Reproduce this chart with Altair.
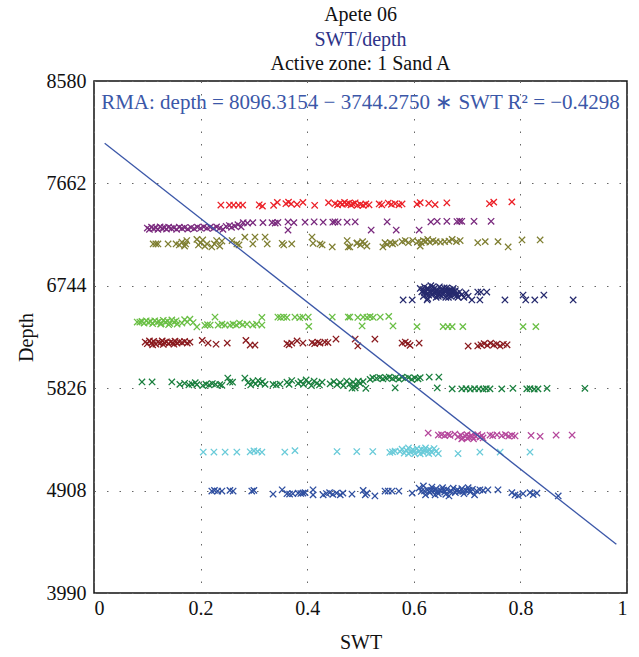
import altair as alt
import pandas as pd

# ---------------- data ----------------
red = [(0.238,7468),(0.254,7468),(0.262,7468),(0.271,7468),(0.279,7468),(0.310,7470),(0.316,7458),(0.337,7466),
       (0.344,7492),(0.360,7480),(0.365,7494),(0.370,7478),(0.381,7474),(0.392,7492),(0.414,7466),(0.440,7490),
       (0.452,7480),(0.457,7470),(0.462,7486),(0.466,7474),(0.470,7492),(0.474,7478),(0.478,7484),(0.482,7470),
       (0.486,7478),(0.490,7488),(0.494,7466),(0.500,7474),(0.505,7466),(0.510,7478),(0.516,7470),(0.535,7478),
       (0.540,7470),(0.552,7486),(0.558,7474),(0.565,7480),(0.572,7470),(0.578,7478),(0.606,7476),(0.612,7490),
       (0.628,7484),(0.640,7472),(0.662,7488),(0.742,7480),(0.750,7494),(0.784,7496)]

purple = [(0.100,7262),(0.104,7250),(0.108,7270),(0.112,7256),(0.116,7266),(0.120,7250),(0.124,7272),(0.128,7258),
          (0.132,7266),(0.136,7252),(0.140,7270),(0.145,7258),(0.150,7264),(0.155,7250),(0.160,7270),(0.165,7258),
          (0.170,7266),(0.176,7252),(0.182,7266),(0.188,7256),(0.194,7270),(0.200,7260),(0.206,7272),(0.212,7262),
          (0.218,7270),(0.224,7258),(0.230,7272),(0.236,7262),(0.242,7250),(0.248,7276),(0.254,7284),(0.258,7268),
          (0.264,7280),(0.270,7292),(0.276,7272),
          (0.280,7310),(0.288,7306),(0.298,7310),(0.317,7310),(0.334,7310),(0.340,7306),(0.345,7312),(0.364,7316),
          (0.364,7244),(0.375,7310),(0.396,7314),(0.413,7318),(0.430,7314),(0.448,7314),(0.452,7318),(0.458,7314),
          (0.475,7314),(0.490,7318),(0.520,7244),(0.550,7318),(0.567,7244),(0.610,7244),(0.632,7316),(0.644,7322),
          (0.662,7322),(0.681,7320),(0.686,7324),(0.690,7322),(0.713,7322),(0.745,7322)]

olive = [(0.111,7119),(0.116,7119),(0.120,7119),(0.139,7119),(0.154,7119),(0.160,7110),(0.165,7135),(0.170,7100),
         (0.174,7150),(0.172,7119),(0.193,7160),(0.196,7110),(0.200,7130),(0.204,7155),(0.208,7100),(0.212,7119),
         (0.221,7092),(0.226,7119),(0.230,7150),(0.236,7100),(0.240,7145),(0.259,7150),(0.268,7119),(0.272,7110),
         (0.283,7180),(0.298,7119),(0.302,7181),(0.321,7181),(0.325,7119),(0.353,7125),(0.356,7110),(0.371,7119),
         (0.409,7181),(0.411,7125),(0.424,7119),(0.428,7110),(0.447,7092),(0.475,7150),(0.477,7092),(0.493,7125),
         (0.480,7092),(0.494,7128),(0.500,7110),(0.504,7140),(0.508,7120),(0.512,7100),(0.542,7092),(0.546,7130),
         (0.550,7115),(0.556,7130),(0.560,7120),(0.565,7128),(0.578,7140),(0.584,7150),(0.590,7130),(0.598,7150),
         (0.608,7140),(0.612,7100),(0.614,7130),(0.618,7150),(0.622,7140),(0.626,7160),(0.630,7135),(0.636,7150),
         (0.642,7140),(0.650,7135),(0.658,7140),(0.666,7145),(0.672,7160),(0.680,7140),(0.687,7150),(0.720,7130),
         (0.734,7140),(0.758,7140),(0.777,7092),(0.803,7155),(0.837,7155)]

navy = [(0.612,6720),(0.615,6690),(0.618,6650),(0.620,6735),(0.622,6700),(0.624,6670),(0.626,6630),(0.628,6715),
        (0.630,6690),(0.632,6745),(0.634,6660),(0.636,6705),(0.638,6680),(0.640,6725),(0.642,6640),(0.644,6700),
        (0.646,6670),(0.648,6735),(0.650,6690),(0.652,6655),(0.654,6715),(0.656,6680),(0.658,6700),(0.660,6640),
        (0.662,6725),(0.664,6665),(0.666,6695),(0.668,6710),(0.670,6650),(0.672,6685),(0.674,6720),(0.676,6660),
        (0.678,6700),(0.680,6675),(0.683,6640),(0.686,6690),(0.690,6665),(0.694,6640),(0.698,6680),(0.702,6650),
        (0.618,6700),(0.625,6720),(0.633,6680),(0.641,6700),(0.649,6660),(0.657,6725),(0.665,6640),(0.673,6700),
        (0.681,6655),(0.628,6660),(0.636,6735),(0.644,6685),(0.652,6710),(0.660,6690),(0.668,6675),(0.676,6690),
        (0.620,6680),(0.646,6650),(0.662,6700),(0.655,6670),
        (0.580,6617),(0.597,6617),(0.625,6617),(0.709,6617),(0.720,6688),(0.726,6688),(0.737,6688),(0.724,6617),
        (0.771,6617),(0.805,6661),(0.810,6617),(0.827,6617),(0.844,6661),(0.899,6617)]

light_green = [(0.081,6419),(0.086,6419),(0.090,6425),(0.094,6410),(0.098,6430),(0.102,6415),(0.106,6425),(0.110,6405),
               (0.114,6430),(0.118,6415),(0.122,6425),(0.126,6405),(0.130,6435),(0.134,6418),(0.138,6428),(0.142,6408),
               (0.146,6438),(0.150,6418),(0.154,6430),(0.156,6400),(0.140,6395),(0.125,6400),
               (0.165,6410),(0.170,6440),(0.175,6420),(0.180,6445),(0.186,6415),(0.193,6375),(0.208,6390),(0.213,6395),
               (0.218,6392),(0.227,6464),(0.233,6392),(0.240,6400),(0.246,6392),(0.255,6392),(0.261,6400),(0.267,6392),
               (0.273,6410),(0.279,6395),(0.287,6400),(0.298,6392),(0.305,6400),(0.315,6392),(0.315,6460),(0.345,6464),
               (0.350,6460),(0.356,6464),(0.362,6460),(0.377,6464),(0.386,6458),(0.392,6464),(0.402,6464),(0.403,6380),
               (0.447,6464),(0.477,6464),(0.495,6460),(0.480,6464),(0.505,6464),(0.512,6460),(0.518,6468),(0.524,6460),
               (0.537,6464),(0.553,6470),(0.503,6384),(0.561,6384),(0.606,6378),(0.655,6378),(0.664,6378),(0.672,6378),
               (0.692,6378),(0.805,6378),(0.829,6378)]

dark_red = [(0.096,6240),(0.100,6225),(0.104,6250),(0.108,6232),(0.112,6245),(0.116,6222),(0.120,6240),(0.124,6230),
            (0.128,6250),(0.132,6235),(0.136,6242),(0.140,6225),(0.144,6240),(0.148,6232),(0.152,6248),(0.156,6230),
            (0.160,6242),(0.165,6235),(0.170,6245),(0.175,6230),(0.180,6240),(0.110,6215),(0.130,6218),(0.150,6220),
            (0.203,6255),(0.214,6231),(0.229,6220),(0.250,6231),(0.285,6255),(0.293,6213),(0.302,6213),(0.362,6225),
            (0.366,6215),(0.371,6231),(0.381,6250),(0.392,6231),(0.409,6235),(0.414,6225),(0.420,6240),(0.424,6230),
            (0.433,6240),(0.439,6235),(0.454,6267),(0.490,6267),(0.495,6205),(0.527,6267),(0.578,6231),(0.584,6240),
            (0.589,6225),(0.593,6210),(0.610,6231),(0.702,6204),(0.720,6205),(0.726,6215),(0.732,6225),(0.738,6210),
            (0.744,6230),(0.750,6215),(0.756,6222),(0.762,6205),(0.768,6220),(0.775,6215)]

dark_green = [(0.090,5882),(0.109,5882),(0.146,5882),(0.161,5860),(0.170,5870),(0.178,5855),(0.184,5862),(0.190,5875),
              (0.193,5858),(0.204,5850),(0.210,5862),(0.216,5855),(0.222,5868),(0.228,5860),(0.236,5858),(0.240,5852),
              (0.251,5917),(0.255,5882),(0.260,5880),(0.283,5917),(0.289,5875),(0.294,5855),(0.298,5890),(0.303,5865),
              (0.308,5895),(0.312,5870),(0.316,5885),(0.321,5860),(0.336,5860),(0.342,5855),(0.349,5862),(0.362,5880),
              (0.366,5860),(0.371,5895),(0.383,5870),(0.388,5885),(0.393,5860),(0.398,5900),(0.403,5875),(0.408,5850),
              (0.413,5890),(0.418,5870),(0.423,5855),(0.428,5880),(0.443,5865),(0.450,5885),(0.456,5858),(0.462,5875),
              (0.468,5850),(0.474,5890),(0.480,5865),(0.486,5880),(0.492,5855),(0.499,5870),
              (0.484,5826),(0.490,5830),(0.496,5890),(0.505,5885),(0.510,5825),(0.518,5905),(0.523,5920),(0.530,5915),
              (0.536,5922),(0.542,5910),(0.548,5918),(0.554,5925),(0.560,5912),(0.565,5830),(0.566,5920),(0.572,5908),
              (0.578,5925),(0.584,5915),(0.590,5920),(0.596,5905),(0.602,5918),(0.608,5910),(0.612,5920),(0.629,5926),
              (0.647,5926),(0.644,5828),(0.672,5820),(0.690,5820),(0.698,5822),(0.706,5818),(0.714,5822),(0.722,5820),
              (0.730,5818),(0.736,5822),(0.743,5820),(0.765,5820),(0.786,5825),(0.812,5820),(0.818,5822),(0.826,5818),
              (0.833,5820),(0.850,5825),(0.921,5825)]

magenta = [(0.627,5424),(0.646,5406),(0.652,5410),(0.658,5400),(0.664,5412),(0.668,5404),(0.677,5415),(0.683,5390),
           (0.688,5405),(0.692,5380),(0.696,5398),(0.700,5410),(0.704,5385),(0.708,5402),(0.712,5372),(0.716,5395),
           (0.720,5410),(0.724,5388),(0.728,5400),(0.690,5372),(0.700,5378),(0.710,5392),(0.730,5380),(0.743,5406),
           (0.748,5400),(0.756,5408),(0.765,5400),(0.772,5410),(0.778,5396),(0.784,5404),(0.790,5398),(0.820,5402),
           (0.837,5395),(0.867,5406),(0.897,5406)]

cyan = [(0.205,5254),(0.225,5254),(0.246,5254),(0.268,5254),(0.293,5256),(0.300,5264),(0.307,5260),(0.315,5252),
        (0.358,5254),(0.377,5266),(0.456,5258),(0.493,5258),(0.523,5258),(0.555,5250),(0.560,5256),(0.565,5262),
        (0.574,5260),(0.578,5280),(0.582,5245),(0.586,5270),(0.590,5290),(0.594,5255),(0.598,5275),(0.602,5240),
        (0.606,5285),(0.610,5262),(0.614,5280),(0.618,5248),(0.622,5290),(0.626,5265),(0.630,5275),(0.634,5250),
        (0.638,5285),(0.642,5262),(0.590,5240),(0.612,5238),(0.628,5240),(0.600,5265),(0.620,5270),
        (0.646,5240),(0.683,5240),(0.724,5254),(0.762,5254),(0.818,5254)]

blue = [(0.221,4904),(0.226,4910),(0.232,4904),(0.240,4904),(0.255,4910),(0.261,4904),(0.296,4904),(0.300,4910),
        (0.336,4877),(0.353,4915),(0.362,4880),(0.367,4877),(0.373,4880),(0.383,4885),(0.388,4882),(0.392,4885),
        (0.396,4890),(0.411,4915),(0.411,4870),(0.430,4870),(0.436,4882),(0.442,4890),(0.448,4875),(0.455,4886),
        (0.462,4870),(0.467,4885),(0.484,4877),(0.505,4910),(0.509,4870),(0.512,4885),(0.527,4860),(0.546,4904),
        (0.552,4904),(0.559,4904),(0.572,4904),(0.597,4885),
        (0.610,4930),(0.614,4900),(0.618,4950),(0.622,4870),(0.626,4915),(0.630,4890),(0.634,4940),(0.638,4905),
        (0.642,4925),(0.646,4880),(0.650,4910),(0.654,4935),(0.658,4895),(0.662,4920),(0.666,4860),(0.670,4905),
        (0.674,4930),(0.678,4890),(0.682,4915),(0.686,4900),(0.690,4925),(0.694,4880),(0.698,4910),(0.702,4935),
        (0.706,4895),(0.710,4920),(0.714,4870),(0.718,4905),(0.620,4905),(0.632,4910),(0.644,4902),(0.656,4912),
        (0.668,4898),(0.680,4908),(0.692,4902),(0.704,4912),(0.640,4870),(0.660,4875),
        (0.724,4915),(0.730,4910),(0.739,4915),(0.758,4915),(0.784,4890),(0.790,4870),(0.796,4862),(0.805,4880),
        (0.818,4890),(0.824,4872),(0.831,4885),(0.871,4860)]

series_names = ["red", "purple", "olive", "navy", "light_green", "dark_red",
                "dark_green", "magenta", "cyan", "blue"]
series_data = [red, purple, olive, navy, light_green, dark_red,
               dark_green, magenta, cyan, blue]
series_colors = ["#ec2027", "#7a2a7e", "#7f7f32", "#262a6e", "#6abf45", "#8a1a1e",
                 "#1a7f3e", "#b5479c", "#6acbd9", "#2f4fa0"]

line_swt = [0.02, 0.98]
line_depth = [8021.4, 4426.9]

x_ticks = [0, 0.2, 0.4, 0.6, 0.8, 1]
y_ticks = [3990, 4908, 5826, 6744, 7662, 8580]

title_lines = ["Apete 06", "SWT/depth", "Active zone: 1 Sand A"]
title_colors = ["#111111", "#2e3388", "#111111"]
equation = "RMA: depth = 8096.3154 \u2212 3744.2750 \u2217 SWT R\u00b2 = \u22120.4298"

# ---------------- build ----------------
rows = []
for name, pts in zip(series_names, series_data):
    for s, d in pts:
        rows.append({"swt": s, "depth": d, "series": name})
pts_df = pd.DataFrame(rows)
line_df = pd.DataFrame({"swt": line_swt, "depth": line_depth})

FONT = "Liberation Serif"
W, H = 533, 512

xs = alt.Scale(domain=[0, 1], nice=False)
ys = alt.Scale(domain=[3990, 8580], nice=False, zero=False)

x_axis = alt.Axis(values=x_ticks, format=".1~f", grid=True, gridDash=[1.5, 11],
                  gridColor="#666666", domain=False, ticks=False, labelPadding=5,
                  labelFontSize=20, labelFont=FONT, labelColor="#111111",
                  title="SWT", titleFont=FONT, titleFontSize=20, titleFontWeight="normal",
                  titleColor="#111111", titlePadding=14)
y_axis = alt.Axis(values=y_ticks, format="d", grid=True, gridDash=[1.5, 11],
                  gridColor="#666666", domain=False, ticks=False, labelPadding=8,
                  labelFontSize=20, labelFont=FONT, labelColor="#111111",
                  title="Depth", titleFont=FONT, titleFontSize=20, titleFontWeight="normal",
                  titleColor="#111111", titlePadding=10)

xshape = "M-1,-1L1,1M-1,1L1,-1"

points = alt.Chart(pts_df).mark_point(
    shape=xshape, filled=False, size=40, strokeWidth=1.3, opacity=1
).encode(
    x=alt.X("swt:Q", scale=xs, axis=x_axis),
    y=alt.Y("depth:Q", scale=ys, axis=y_axis),
    color=alt.Color("series:N", scale=alt.Scale(domain=series_names, range=series_colors), legend=None),
)

line = alt.Chart(line_df).mark_line(color="#3b57a8", strokeWidth=1.3).encode(
    x=alt.X("swt:Q", scale=xs), y=alt.Y("depth:Q", scale=ys)
)

eq = alt.Chart(pd.DataFrame({"t": [equation]})).mark_text(
    font=FONT, fontSize=21, color="#3b57a8", align="center", baseline="middle"
).encode(text="t:N", x=alt.value(W / 2), y=alt.value(22))

title_layers = []
for txt, col, yy in zip(title_lines, title_colors, [-66, -41, -17]):
    title_layers.append(
        alt.Chart(pd.DataFrame({"t": [txt]})).mark_text(
            font=FONT, fontSize=20, align="center", baseline="middle", color=col
        ).encode(text="t:N", x=alt.value(W / 2), y=alt.value(yy))
    )

chart = alt.layer(points, line, eq, *title_layers).properties(
    width=W, height=H,
    autosize=alt.AutoSizeParams(type="none"),
    padding={"left": 94, "top": 81, "right": 12, "bottom": 64},
).configure_view(stroke="#111111", strokeWidth=1.5)

chart.save("out.html", embed_options={"renderer": "svg", "actions": False})
